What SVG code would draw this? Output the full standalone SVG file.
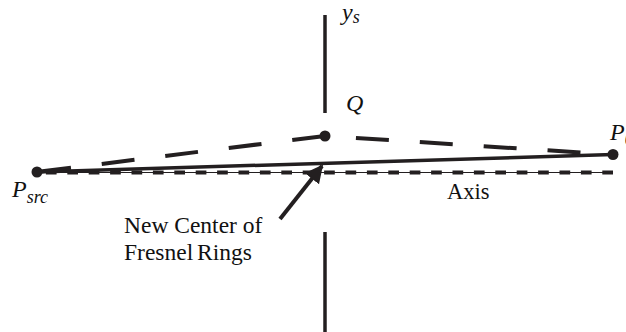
<svg xmlns="http://www.w3.org/2000/svg" width="626" height="332" viewBox="0 0 626 332">
<defs>
<style>
.lbl{font-family:"Liberation Serif","Times New Roman",serif;fill:#111;}
.it{font-style:italic;}
.thick{stroke:#231f20;fill:none;stroke-linecap:butt;}
</style>
<marker id="ah" viewBox="0 0 10 10" refX="9" refY="5" markerWidth="4.5" markerHeight="4.5" orient="auto" markerUnits="strokeWidth">
<path d="M0,0 L10,5 L0,10 z" fill="#231f20"/>
</marker>
</defs>
<rect width="626" height="332" fill="#fff"/>
<g id="connectors">
<line id="axis-thin" x1="37" y1="172.5" x2="613" y2="172.5" stroke="#231f20" stroke-width="1"/>
<line id="axis-dash" x1="613" y1="172.5" x2="37" y2="172.5" class="thick" stroke-width="4" stroke-dasharray="10.7 10.7"/>
<line id="screen-top" x1="325" y1="15" x2="325" y2="113" class="thick" stroke-width="3.5"/>
<line id="screen-bottom" x1="325" y1="232" x2="325" y2="332" class="thick" stroke-width="3.5"/>
<line id="direct" x1="37" y1="172" x2="613" y2="154.5" class="thick" stroke-width="3.5"/>
<line id="dash-left" x1="325" y1="136" x2="37" y2="172" class="thick" stroke-width="4" stroke-dasharray="33 31"/>
<line id="dash-right" x1="325" y1="136" x2="613" y2="154.5" class="thick" stroke-width="4" stroke-dasharray="33 31" stroke-dashoffset="33"/>
<line id="pointer" x1="280" y1="219" x2="322" y2="166" class="thick" stroke-width="4" marker-end="url(#ah)"/>
</g>
<g id="Psrc">
<circle cx="37" cy="172" r="5.5" fill="#231f20"/>
<text class="lbl it" x="12" y="197" font-size="24">P<tspan font-size="18" dy="6">src</tspan></text>
</g>
<g id="Q">
<circle cx="325" cy="136" r="5.5" fill="#231f20"/>
<text class="lbl it" x="346" y="111" font-size="24">Q</text>
</g>
<g id="P0">
<circle cx="613" cy="154.5" r="5.5" fill="#231f20"/>
<text class="lbl it" x="610" y="140" font-size="24">P<tspan font-size="18" dy="5">0</tspan></text>
</g>
<g id="ys">
<text class="lbl it" x="342" y="20" font-size="24">y<tspan font-size="18" dy="3">s</tspan></text>
</g>
<g id="axis-label">
<text class="lbl" x="447" y="199" font-size="22.5">Axis</text>
</g>
<g id="new-center">
<text class="lbl" x="124" y="233" font-size="23.5">New Center of</text>
<text class="lbl" x="124" y="260" font-size="23.5" word-spacing="-2">Fresnel Rings</text>
</g>
</svg>
